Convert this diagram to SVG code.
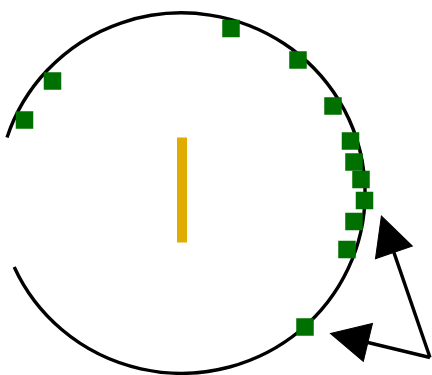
<svg xmlns="http://www.w3.org/2000/svg" width="432" height="375" viewBox="0 0 432 375">
  <style>
    .arc { fill: none; stroke: #000; stroke-width: 3.4; }
    .pt { fill: #007000; }
    .bar { stroke: #E0AC00; stroke-width: 10; }
    .arr { stroke: #000; stroke-width: 3.4; fill: none; marker-end: url(#head); }
  </style>
  <defs>
    <marker id="head" markerUnits="userSpaceOnUse" markerWidth="42" markerHeight="42" viewBox="0 -21 42 42" refX="0" refY="0" orient="auto" overflow="visible">
      <path d="M0,-19.5 L38.5,0 L0,19.5 Z" fill="#000" stroke="#000" stroke-width="1" stroke-linejoin="miter"/>
    </marker>
  </defs>
  <rect width="432" height="375" fill="#fff"/>
  <g id="ring">
    <path class="arc" d="M 7 137.5 A 183.5 180.2 0 1 1 14.2 267"/>
  </g>
  <g id="bar">
    <line class="bar" x1="182" y1="137.5" x2="182" y2="242.5"/>
  </g>
  <g id="points">
    <rect class="pt" x="43.75" y="72.25" width="17.5" height="17.5"/>
    <rect class="pt" x="15.75" y="111.25" width="17.5" height="17.5"/>
    <rect class="pt" x="222.25" y="19.75" width="17.5" height="17.5"/>
    <rect class="pt" x="289.25" y="51.25" width="17.5" height="17.5"/>
    <rect class="pt" x="324.25" y="97.25" width="17.5" height="17.5"/>
    <rect class="pt" x="341.75" y="132.25" width="17.5" height="17.5"/>
    <rect class="pt" x="345.25" y="153.25" width="17.5" height="17.5"/>
    <rect class="pt" x="352.25" y="170.75" width="17.5" height="17.5"/>
    <rect class="pt" x="355.75" y="191.75" width="17.5" height="17.5"/>
    <rect class="pt" x="345.25" y="212.75" width="17.5" height="17.5"/>
    <rect class="pt" x="338.25" y="240.75" width="17.5" height="17.5"/>
    <rect class="pt" x="296.25" y="318.25" width="17.5" height="17.5"/>
  </g>
  <g id="connectors">
    <line class="arr" x1="430" y1="357.5" x2="393.9" y2="252.4"/>
    <line class="arr" x1="430" y1="357.5" x2="367.9" y2="342.5"/>
  </g>
</svg>
